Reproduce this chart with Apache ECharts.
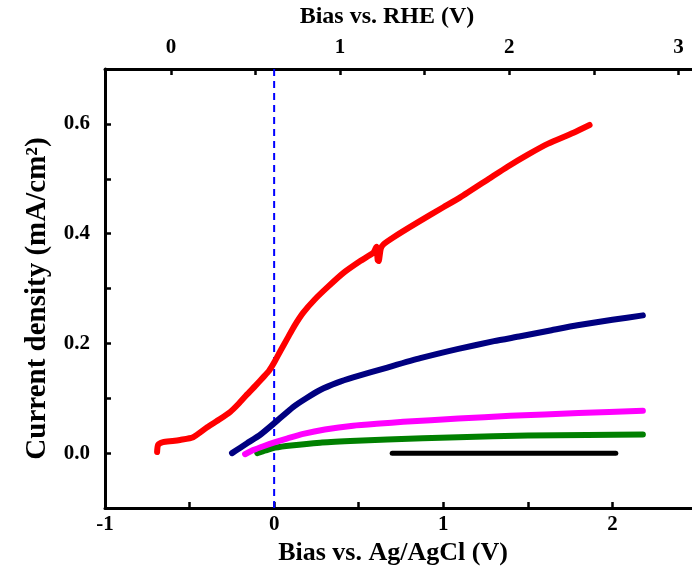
<!DOCTYPE html>
<html>
<head>
<meta charset="utf-8">
<script src="https://cdn.jsdelivr.net/npm/echarts@6/dist/echarts.min.js"></script>
<style>html,body{margin:0;padding:0;background:#fff;}#c{width:692px;height:576px;}</style>
</head>
<body>
<div id="c"></div>
<script>
// Bias vs. Ag/AgCl (V), current density (mA/cm2)
const redCurve = [
  [-0.692,0.002],[-0.686,0.015],[-0.657,0.020],[-0.600,0.022],[-0.556,0.024],[-0.479,0.029],
  [-0.396,0.047],[-0.320,0.062],[-0.260,0.075],[-0.210,0.090],[-0.160,0.107],[-0.110,0.123],
  [-0.065,0.138],[-0.030,0.150],[0.000,0.165],[0.040,0.188],[0.080,0.210],[0.120,0.232],
  [0.172,0.256],[0.240,0.280],[0.314,0.302],[0.408,0.328],[0.509,0.350],[0.586,0.365],
  [0.605,0.376],[0.612,0.352],[0.618,0.350],[0.630,0.372],[0.645,0.380],[0.704,0.393],
  [0.846,0.420],[1.000,0.448],[1.100,0.466],[1.270,0.500],[1.380,0.522],[1.500,0.544],
  [1.620,0.564],[1.770,0.584],[1.865,0.598]
];
const navyCurve = [
  [-0.249,0.000],[-0.200,0.010],[-0.160,0.018],[-0.080,0.034],[0.006,0.056],[0.112,0.084],
  [0.190,0.100],[0.272,0.115],[0.370,0.128],[0.467,0.138],[0.669,0.156],[0.864,0.173],
  [1.089,0.190],[1.300,0.204],[1.456,0.213],[1.640,0.224],[1.793,0.233],[2.000,0.243],[2.180,0.251]
];
const magentaCurve = [
  [-0.172,-0.002],[-0.120,0.006],[-0.060,0.013],[0.006,0.020],[0.080,0.027],[0.172,0.035],
  [0.300,0.043],[0.467,0.050],[0.627,0.054],[0.763,0.057],[1.089,0.063],[1.396,0.068],
  [1.800,0.073],[2.180,0.077]
];
const greenCurve = [
  [-0.100,0.000],[-0.050,0.005],[0.006,0.010],[0.100,0.014],[0.272,0.019],[0.450,0.022],
  [0.669,0.025],[1.089,0.029],[1.500,0.032],[1.850,0.033],[2.180,0.034]
];
const blackCurve = [[0.698,0.0],[2.020,0.0]];
const refLine = [[0,-0.1],[0,0.7]];
const rheOffset = 0.61;
const rheLabels = [0,1,2,3];
const rheTicks = [0,0.5,1,1.5,2,2.5,3];

const font = 'Liberation Serif';
const chart = echarts.init(document.getElementById('c'));
const lineSeries = (data, color, width) => ({
  type: 'line', data: data, xAxisIndex: 0, yAxisIndex: 0, showSymbol: false, symbol: 'none',
  smooth: 0.2, lineStyle: {color: color, width: width, cap: 'round', join: 'round'}, z: 3, animation: false
});
chart.setOption({
  animation: false,
  backgroundColor: '#fff',
  grid: {left: 105, top: 69, width: 592, height: 439, containLabel: false, outerBoundsMode: 'none'},
  xAxis: [{
    type: 'value', position: 'bottom', min: -1, max: 2.5, interval: 0.5,
    name: 'Bias vs. Ag/AgCl (V)', nameLocation: 'middle', nameGap: 31,
    nameTextStyle: {fontFamily: font, fontWeight: 'bold', fontSize: 26, color: '#000', padding: [0, 16, 0, 0]},
    axisLine: {show: true, onZero: false, lineStyle: {color: '#000', width: 3}},
    axisTick: {show: true, inside: true, length: 6, lineStyle: {color: '#000', width: 2.5}},
    axisLabel: {fontFamily: font, fontWeight: 'bold', fontSize: 21, color: '#000', margin: 6,
      formatter: v => (Math.abs(v - Math.round(v)) < 1e-6 && v < 2.4) ? String(Math.round(v)) : ''},
    splitLine: {show: false}
  }, {
    type: 'value', position: 'top', min: -1 + rheOffset, max: 2.5 + rheOffset,
    name: 'Bias vs. RHE (V)', nameLocation: 'middle', nameGap: 40,
    nameTextStyle: {fontFamily: font, fontWeight: 'bold', fontSize: 24, color: '#000', padding: [0, 28, 0, 0]},
    axisLine: {show: true, onZero: false, lineStyle: {color: '#000', width: 3}},
    axisTick: {show: true, inside: true, length: 6, customValues: rheTicks, lineStyle: {color: '#000', width: 2.5}},
    axisLabel: {fontFamily: font, fontWeight: 'bold', fontSize: 21, color: '#000', margin: 11, customValues: rheLabels},
    splitLine: {show: false}
  }],
  yAxis: [{
    type: 'value', min: -0.1, max: 0.7, interval: 0.1,
    name: 'Current density (mA/cm²)', nameLocation: 'middle', nameGap: 53,
    nameTextStyle: {fontFamily: font, fontWeight: 'bold', fontSize: 29, color: '#000', padding: [0, 20, 0, 0]},
    axisLine: {show: true, onZero: false, lineStyle: {color: '#000', width: 3}},
    axisTick: {show: true, inside: true, length: 6, lineStyle: {color: '#000', width: 2.5}},
    axisLabel: {fontFamily: font, fontWeight: 'bold', fontSize: 21, color: '#000', margin: 15,
      formatter: v => { const k = Math.round(v * 10); return (k >= 0 && k <= 6 && k % 2 === 0) ? (k / 10).toFixed(1) : ''; }},
    splitLine: {show: false}
  }],
  series: [
    {type: 'line', data: refLine, showSymbol: false, symbol: 'none', z: 2,
     lineStyle: {color: '#0000ff', width: 2, type: [7, 5]}},
    lineSeries(blackCurve, '#000000', 5),
    lineSeries(greenCurve, '#008000', 6),
    lineSeries(magentaCurve, '#ff00ff', 6),
    lineSeries(navyCurve, '#000080', 6),
    lineSeries(redCurve, '#ff0000', 6)
  ]
});
</script>
</body>
</html>
